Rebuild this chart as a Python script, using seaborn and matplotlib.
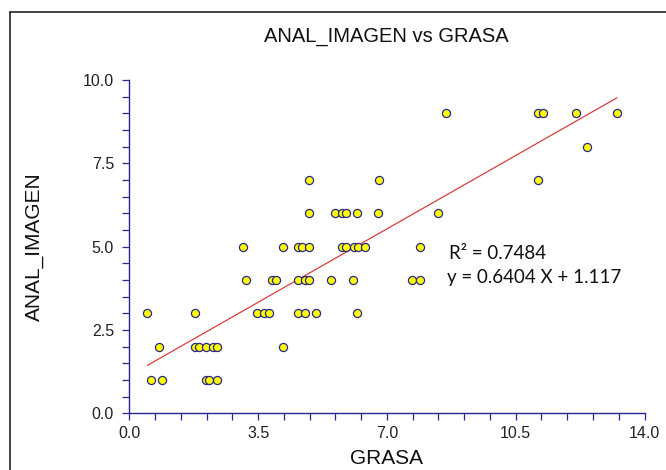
import numpy as np
import pandas as pd
import matplotlib
matplotlib.use('Agg')
import matplotlib.pyplot as plt
from matplotlib.lines import Line2D
from matplotlib.ticker import MultipleLocator
import seaborn as sns

sns.set_style('white')
plt.rcParams['font.family'] = ['Liberation Sans', 'DejaVu Sans']

# valores, agrupados por nivel de ANAL_IMAGEN
grasa_9 = [8.61, 11.10, 11.24, 12.13, 13.25]
grasa_8 = [12.43]
grasa_7 = [4.88, 6.79, 11.10]
grasa_6 = [4.88, 5.58, 5.77, 5.89, 6.18, 6.77, 8.38]
grasa_5 = [3.08, 4.17, 4.58, 4.69, 4.88, 5.78, 5.89, 6.11, 6.21, 6.40, 7.89]
grasa_4 = [3.18, 3.87, 3.99, 4.58, 4.78, 4.89, 5.47, 6.09, 7.68, 7.89]
grasa_3 = [0.49, 1.79, 3.48, 3.67, 3.80, 4.59, 4.78, 5.08, 6.18]
grasa_2 = [0.80, 1.79, 1.89, 2.08, 2.28, 2.39, 4.17]
grasa_1 = [0.59, 0.88, 2.08, 2.17, 2.38]

niveles = [9, 8, 7, 6, 5, 4, 3, 2, 1]
grupos = [grasa_9, grasa_8, grasa_7, grasa_6, grasa_5, grasa_4, grasa_3, grasa_2, grasa_1]

r2_texto = 'R\u00b2 = 0.7484'
ecuacion = 'y = 0.6404 X + 1.117'

df = pd.DataFrame({
    'GRASA': [g for grupo in grupos for g in grupo],
    'ANAL_IMAGEN': [n for n, grupo in zip(niveles, grupos) for _ in grupo],
})

azul = '#28288c'

fig = plt.figure(figsize=(6.66, 4.7), dpi=100)
ax = fig.add_axes([129.3 / 666, 1 - 413.3 / 470, (644.5 - 129.3) / 666, (413.3 - 80) / 470])

sns.regplot(data=df, x='GRASA', y='ANAL_IMAGEN', ax=ax, ci=None,
            scatter_kws=dict(s=34, color='#ffff00', edgecolor=azul, linewidths=0.9, alpha=1, zorder=3),
            line_kws=dict(color='#d42a2a', lw=0.9, alpha=0.9, zorder=2))

ax.set_xlim(0, 14)
ax.set_ylim(0, 10)
ax.xaxis.set_major_locator(MultipleLocator(3.5))
ax.xaxis.set_minor_locator(MultipleLocator(0.7))
ax.yaxis.set_major_locator(MultipleLocator(2.5))
ax.yaxis.set_minor_locator(MultipleLocator(0.5))
ax.xaxis.set_major_formatter(matplotlib.ticker.FormatStrFormatter('%.1f'))
ax.yaxis.set_major_formatter(matplotlib.ticker.FormatStrFormatter('%.1f'))

for lado in ['top', 'right']:
    ax.spines[lado].set_visible(False)
for lado in ['left', 'bottom']:
    ax.spines[lado].set_color(azul)
    ax.spines[lado].set_linewidth(1.0)

ax.tick_params(which='both', direction='out', length=5, width=0.9, color=azul,
               labelsize=11.5, labelcolor='#222222', bottom=True, left=True)
ax.tick_params(axis='y', pad=6)
ax.tick_params(axis='x', pad=4)

ax.set_xlabel('GRASA', fontsize=15, labelpad=6, color='#111111')
ax.set_ylabel('ANAL_IMAGEN', fontsize=15, labelpad=28, color='#111111')
fig.text(386 / 666, 1 - 36 / 470, 'ANAL_IMAGEN vs GRASA', fontsize=14.5,
         ha='center', va='center', color='#111111')

ax.text(8.69, 4.78, r2_texto, fontsize=13.5, family=['Lato', 'DejaVu Sans'],
        ha='left', va='center', color='#111111')
ax.text(8.62, 4.06, ecuacion, fontsize=13.5, family=['Lato', 'DejaVu Sans'],
        ha='left', va='center', color='#111111')

# marco exterior (solo arriba e izquierda)
fig.add_artist(Line2D([10 / 666, 10 / 666], [0, 1 - 12 / 470], color='#222222', lw=1.2,
                      transform=fig.transFigure))
fig.add_artist(Line2D([10 / 666, 1], [1 - 12 / 470, 1 - 12 / 470], color='#222222', lw=1.2,
                      transform=fig.transFigure))

fig.savefig('out.png', dpi=100)
